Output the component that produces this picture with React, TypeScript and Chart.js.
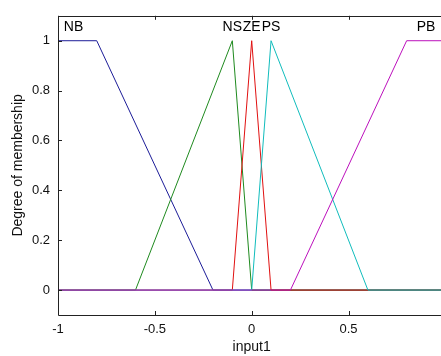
import React, { useEffect, useRef } from "react";
import { Chart, registerables } from "chart.js";
Chart.register(...registerables);

// Membership functions of input1
const mfNames = ["NB", "NS", "ZE", "PS", "PB"];
const nbX = [-1, -0.8, -0.2, 1];
const nbY = [1, 1, 0, 0];
const nsX = [-1, -0.6, -0.1, 0, 1];
const nsY = [0, 0, 1, 0, 0];
const zeX = [-1, -0.1, 0, 0.1, 1];
const zeY = [0, 0, 1, 0, 0];
const psX = [-1, 0, 0.1, 0.6, 1];
const psY = [0, 0, 1, 0, 0];
const pbX = [-1, 0.2, 0.8, 1];
const pbY = [0, 0, 1, 1];
const mfColors = ["#1c1c98", "#1f8a1f", "#e01010", "#10bcbc", "#bc10bc"];
const labelX = [-0.92, -0.1, 0, 0.1, 0.9];
const labelY = 1.055;
const xTicks = [-1, -0.5, 0, 0.5, 1];
const yTicks = [0, 0.2, 0.4, 0.6, 0.8, 1];
const xTitle = "input1";
const yTitle = "Degree of membership";

const FONT = "'Liberation Sans', Arial, sans-serif";

const toPts = (xs: number[], ys: number[]) => xs.map((x, i) => ({ x, y: ys[i] }));

const framePlugin = {
  id: "frame",
  afterDatasetsDraw(chart: any) {
    const { ctx, chartArea } = chart;
    const { left, right, top, bottom } = chartArea;
    const xs = chart.scales.x;
    const ys = chart.scales.y;
    ctx.save();
    // labels
    ctx.fillStyle = "#000";
    ctx.font = `14px ${FONT}`;
    ctx.textAlign = "center";
    ctx.textBaseline = "middle";
    mfNames.forEach((n, i) => {
      ctx.fillText(n, xs.getPixelForValue(labelX[i]), ys.getPixelForValue(labelY));
    });
    // frame
    ctx.strokeStyle = "#222";
    ctx.lineWidth = 1;
    ctx.beginPath();
    ctx.rect(Math.round(left) + 0.5, Math.round(top) + 0.5, Math.round(right - left), Math.round(bottom - top));
    ctx.stroke();
    const tl = 4;
    ctx.beginPath();
    xTicks.forEach((v) => {
      const px = Math.round(xs.getPixelForValue(v)) + 0.5;
      ctx.moveTo(px, bottom);
      ctx.lineTo(px, bottom - tl);
      ctx.moveTo(px, top);
      ctx.lineTo(px, top + tl);
    });
    yTicks.forEach((v) => {
      const py = Math.round(ys.getPixelForValue(v)) + 0.5;
      ctx.moveTo(left, py);
      ctx.lineTo(left + tl, py);
      ctx.moveTo(right, py);
      ctx.lineTo(right - tl, py);
    });
    ctx.stroke();
    ctx.restore();
  },
};

export default function App() {
  const ref = useRef<HTMLCanvasElement>(null);
  useEffect(() => {
    if (!ref.current) return;
    const series = [
      toPts(nbX, nbY),
      toPts(nsX, nsY),
      toPts(zeX, zeY),
      toPts(psX, psY),
      toPts(pbX, pbY),
    ];
    const chart = new Chart(ref.current, {
      type: "scatter",
      data: {
        datasets: series.map((d, i) => ({
          label: mfNames[i],
          data: d,
          showLine: true,
          borderColor: mfColors[i],
          backgroundColor: mfColors[i],
          borderWidth: 1,
          pointRadius: 0,
          fill: false,
          order: series.length - i,
        })),
      },
      options: {
        animation: false,
        responsive: false,
        devicePixelRatio: 1,
        layout: { padding: { left: 0, right: 6, top: 11, bottom: 0 } },
        plugins: { legend: { display: false }, tooltip: { enabled: false } },
        scales: {
          x: {
            type: "linear",
            min: -1,
            max: 1,
            grid: { display: false, drawTicks: false },
            border: { display: false },
            afterBuildTicks: (s: any) => {
              s.ticks = xTicks.map((v) => ({ value: v }));
            },
            afterFit: (s: any) => {
              s.height = 41;
            },
            ticks: {
              autoSkip: false,
              maxRotation: 0,
              padding: 7,
              color: "#111",
              font: { family: FONT, size: 13 },
              callback: (v: any) => String(v),
            },
            title: {
              display: true,
              text: xTitle,
              color: "#111",
              font: { family: FONT, size: 14 },
              padding: { top: 0, bottom: 0 },
            },
          },
          y: {
            type: "linear",
            min: -0.1,
            max: 1.1,
            grid: { display: false, drawTicks: false },
            border: { display: false },
            afterBuildTicks: (s: any) => {
              s.ticks = yTicks.map((v) => ({ value: v }));
            },
            afterFit: (s: any) => {
              s.width = 58;
            },
            ticks: {
              padding: 8,
              color: "#111",
              font: { family: FONT, size: 13 },
              callback: (v: any) => String(v),
            },
            title: {
              display: true,
              text: yTitle,
              color: "#111",
              font: { family: FONT, size: 14 },
              padding: { top: 10, bottom: 0 },
            },
          },
        },
      },
      plugins: [framePlugin],
    });
    return () => chart.destroy();
  }, []);
  return (
    <div
      style={{
        position: "fixed",
        left: 0,
        top: 0,
        width: 441,
        height: 356,
        overflow: "hidden",
        background: "#fff",
      }}
    >
      <canvas ref={ref} width={456} height={356} style={{ width: 456, height: 356, display: "block" }} />
    </div>
  );
}
